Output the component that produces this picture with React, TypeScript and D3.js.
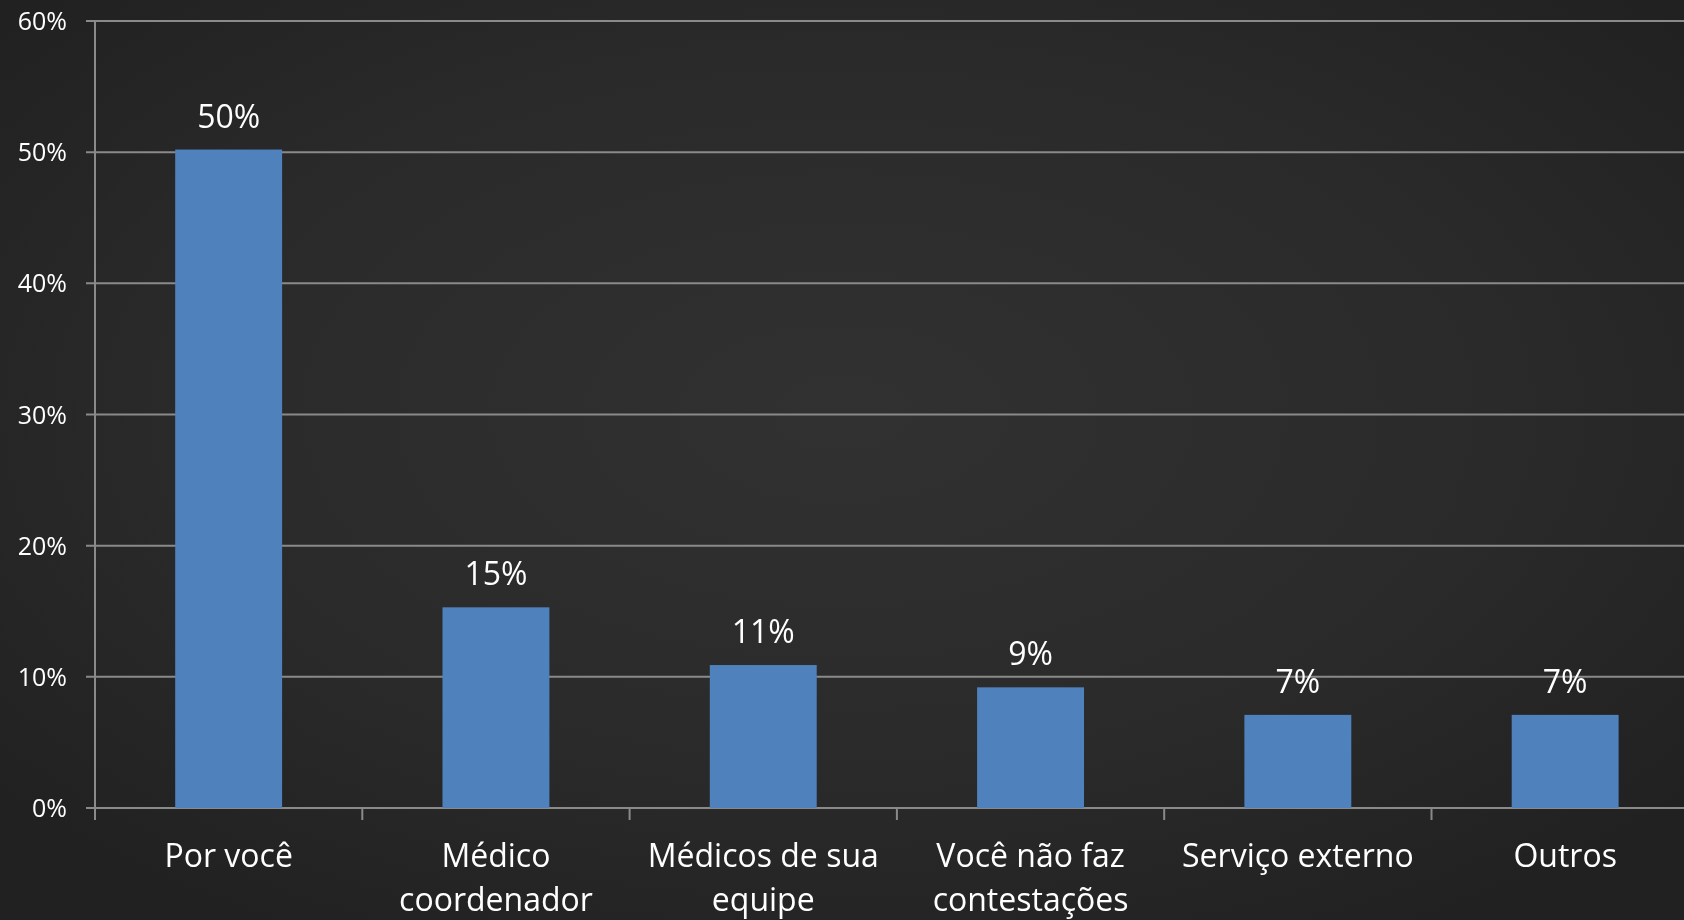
import React, { useEffect } from "react";
import * as d3 from "d3";

const categories = [
  "Por você",
  "Médico coordenador",
  "Médicos de sua equipe",
  "Você não faz contestações",
  "Serviço externo",
  "Outros",
];
const categoryLines = [
  ["Por você"],
  ["Médico", "coordenador"],
  ["Médicos de sua", "equipe"],
  ["Você não faz", "contestações"],
  ["Serviço externo"],
  ["Outros"],
];
const values = [0.502, 0.153, 0.109, 0.092, 0.071, 0.071];
const valueLabels = ["50%", "15%", "11%", "9%", "7%", "7%"];
const yTicks = [0, 0.1, 0.2, 0.3, 0.4, 0.5, 0.6];

const W = 1684;
const H = 920;
const FONT = "'Open Sans', 'Noto Sans', sans-serif";

export default function App() {
  useEffect(() => {
    document.body.style.margin = "0";
    document.body.style.overflow = "hidden";
  }, []);

  const x = d3
    .scaleBand<string>()
    .domain(categories)
    .range([95, 95 + 6 * 267.3])
    .paddingInner(0.6)
    .paddingOuter(0.3);
  const y = d3.scaleLinear().domain([0, 0.6]).range([808, 21]);
  const step = x.step();
  const x0 = x.range()[0];
  const fmt = d3.format(".0%");

  return (
    <svg
      width={W}
      height={H}
      style={{ position: "fixed", left: 0, top: 0, display: "block" }}
    >
      <defs>
        <radialGradient id="bg" cx="0.5" cy="0.45" r="0.65">
          <stop offset="0" stopColor="#313131" />
          <stop offset="0.6" stopColor="#2a2a2a" />
          <stop offset="1" stopColor="#212121" />
        </radialGradient>
      </defs>
      <rect x={0} y={0} width={W} height={H} fill="url(#bg)" />

      {/* gridlines */}
      {yTicks.map((t) => (
        <line
          key={"g" + t}
          x1={86}
          x2={W}
          y1={y(t)}
          y2={y(t)}
          stroke="#8a8a8a"
          strokeWidth={2}
        />
      ))}
      {/* y axis line */}
      <line x1={95} x2={95} y1={y(0.6)} y2={820} stroke="#8a8a8a" strokeWidth={2} />
      {/* category ticks */}
      {categories.map((c, i) => (
        <line
          key={"ct" + i}
          x1={x0 + (i + 1) * step}
          x2={x0 + (i + 1) * step}
          y1={y(0)}
          y2={820}
          stroke="#8a8a8a"
          strokeWidth={2}
        />
      ))}
      {/* y tick labels */}
      {yTicks.map((t) => (
        <text
          key={"yl" + t}
          x={67}
          y={y(t)}
          dy="0.36em"
          textAnchor="end"
          fill="#ffffff"
          fontFamily={FONT}
          fontSize={25}
        >
          {fmt(t)}
        </text>
      ))}
      {/* bars */}
      {categories.map((c, i) => (
        <rect
          key={"b" + i}
          x={x(c)}
          y={y(values[i])}
          width={x.bandwidth()}
          height={y(0) - y(values[i])}
          fill="#4f81bd"
        />
      ))}
      {/* value labels */}
      {categories.map((c, i) => (
        <text
          key={"v" + i}
          x={(x(c) as number) + x.bandwidth() / 2}
          y={y(values[i]) - 22}
          textAnchor="middle"
          fill="#ffffff"
          fontFamily={FONT}
          fontSize={32}
        >
          {valueLabels[i]}
        </text>
      ))}
      {/* category labels */}
      {categories.map((c, i) => (
        <text
          key={"c" + i}
          x={(x(c) as number) + x.bandwidth() / 2}
          y={867}
          textAnchor="middle"
          fill="#ffffff"
          fontFamily={FONT}
          fontSize={32}
        >
          {categoryLines[i].map((ln, j) => (
            <tspan key={j} x={(x(c) as number) + x.bandwidth() / 2} dy={j === 0 ? 0 : 44}>
              {ln}
            </tspan>
          ))}
        </text>
      ))}
    </svg>
  );
}
